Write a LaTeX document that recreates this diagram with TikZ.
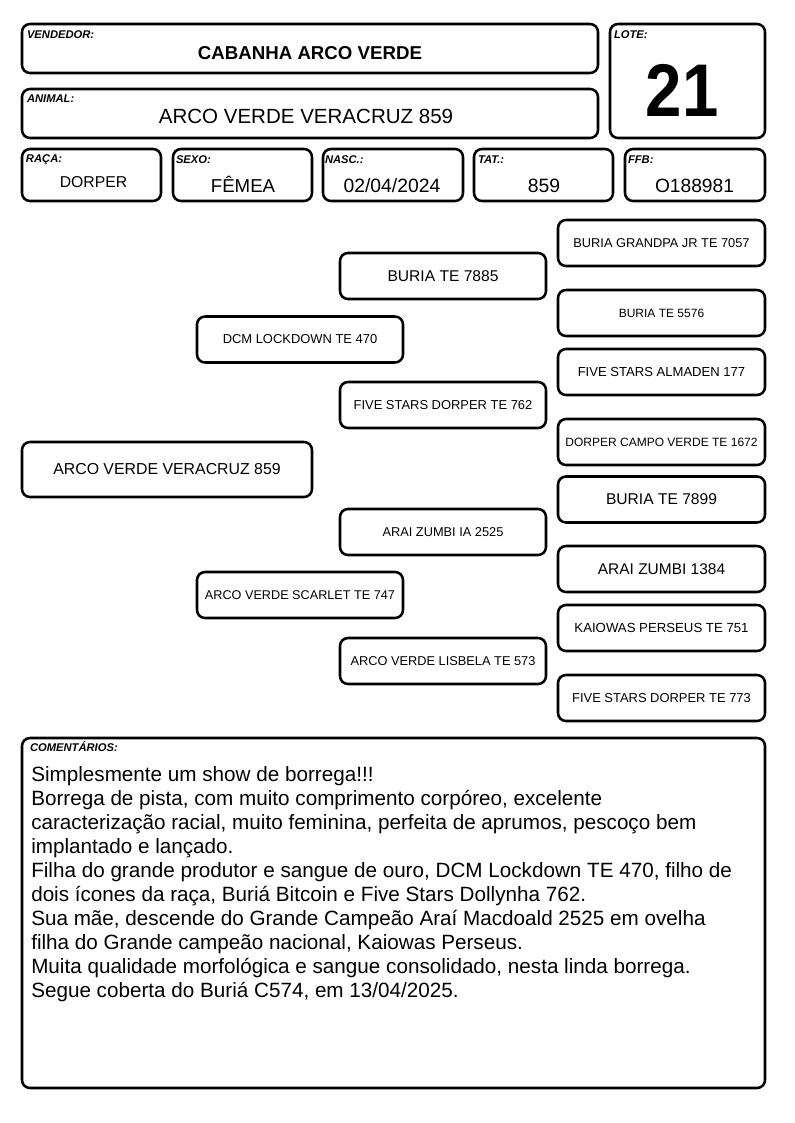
\documentclass[tikz,border=0pt]{standalone}
\usepackage{fontspec}
\setmainfont{Liberation Sans}

\tikzset{
    box/.style={draw,line width=1.9pt,rounded corners=6pt,inner sep=0pt},
    sz/.style 2 args={minimum width=#1*0.75pt,minimum height=#2*0.75pt},
    lbl/.style={anchor=base west,inner sep=0pt,font=\bfseries\itshape\fontsize{8.4}{9}\selectfont},
    val/.style={anchor=base,inner sep=0pt,font=\fontsize{#1}{#1}\selectfont},
    ped/.style={box,font=\fontsize{#1}{#1}\selectfont}
}

\begin{document}
\begin{tikzpicture}[x=0.75pt,y=-0.75pt]

        \useasboundingbox (0,0) rectangle (794,1123);

        % header
        \node[box,sz={576}{49}] (vend) at (310,48.5) {};
        \node[box,sz={576}{49}] (anim) at (310,113.5) {};
        \node[box,sz={155}{114}] (lote) at (687.5,81) {};
        \node[box,sz={139}{52}] (raca) at (91.5,175) {};
        \node[box,sz={139}{52}] (sexo) at (242.5,175) {};
        \node[box,sz={140}{52}] (nasc) at (393,175) {};
        \node[box,sz={139}{52}] (tat) at (543.5,175) {};
        \node[box,sz={140}{52}] (ffb) at (695,175) {};

        \node[lbl] (vendlbl) at ([shift={(6,16)}]vend.north west) {VENDEDOR:};
        \node[lbl] (animlbl) at ([shift={(6,15)}]anim.north west) {ANIMAL:};
        \node[lbl] (lotelbl) at ([shift={(5,16)}]lote.north west) {LOTE:};
        \node[lbl] (racalbl) at ([shift={(5,15)}]raca.north west) {RAÇA:};
        \node[lbl] (sexolbl) at ([shift={(4,16)}]sexo.north west) {SEXO:};
        \node[lbl] (nasclbl) at ([shift={(3,16)}]nasc.north west) {NASC.:};
        \node[lbl] (tatlbl) at ([shift={(5,16)}]tat.north west) {TAT.:};
        \node[lbl] (ffblbl) at ([shift={(4,16)}]ffb.north west) {FFB:};

        \node[val=14] (vendval) at (310,59.7) {\bfseries CABANHA ARCO VERDE};
        \node[val=15.4] (animval) at (306,123.4) {ARCO VERDE VERACRUZ 859};
        \node[val=56] (loteval) at (682,117) {\bfseries\scalebox{0.875}[1]{21}};
        \node[val=11.8] (racaval) at (93.5,187.6) {DORPER};
        \node[val=14] (sexoval) at (243,193) {FÊMEA};
        \node[val=14.5] (nascval) at (392,193) {02/04/2024};
        \node[val=14.5] (tatval) at (544,193) {859};
        \node[val=14.4] (ffbval) at (694.5,193) {O188981};

        % pedigree
        \node[ped=11.9,sz={290}{55}] (p0) at (167,469.5) {ARCO VERDE VERACRUZ 859};

        \foreach \nm/\yy/\fs/\txt in {p1/339.5/9.7/DCM LOCKDOWN TE 470,
                                    p2/595/9.5/ARCO VERDE SCARLET TE 747}
            \node[ped=\fs,sz={206}{46}] (\nm) at (300,\yy) {\txt};

        \foreach \nm/\yy/\fs/\txt in {p11/276/11.7/BURIA TE 7885,
                                    p12/405/9.7/FIVE STARS DORPER TE 762,
                                    p21/532/9.6/ARAI ZUMBI IA 2525,
                                    p22/661/9.6/ARCO VERDE LISBELA TE 573}
            \node[ped=\fs,sz={206}{46}] (\nm) at (443,\yy) {\txt};

        \foreach \nm/\yy/\fs/\txt in {p111/243/9.6/BURIA GRANDPA JR TE 7057,
                                    p112/313/9/BURIA TE 5576,
                                    p121/372/9.8/FIVE STARS ALMADEN 177,
                                    p122/442/9/DORPER CAMPO VERDE TE 1672,
                                    p211/499.5/11.7/BURIA TE 7899,
                                    p212/569/11.6/ARAI ZUMBI 1384,
                                    p221/628/9.9/KAIOWAS PERSEUS TE 751,
                                    p222/698/9.7/FIVE STARS DORPER TE 773}
            \node[ped=\fs,sz={207}{46}] (\nm) at (661.5,\yy) {\txt};

        % comments
        \node[box,sz={743}{350}] (coment) at (393.5,913) {};
        \node[lbl] (comentlbl) at ([shift={(9,15)}]coment.north west) {COMENTÁRIOS:};
        \node[anchor=north west,inner sep=0pt,align=left,font=\fontsize{15.5}{18}\selectfont] (comenttxt) at (31,766)
            {Simplesmente um show de borrega!!!\\
             Borrega de pista, com muito comprimento corpóreo, excelente\\
             caracterização racial, muito feminina, perfeita de aprumos, pescoço bem\\
             implantado e lançado.\\
             Filha do grande produtor e sangue de ouro, DCM Lockdown TE 470, filho de\\
             dois ícones da raça, Buriá Bitcoin e Five Stars Dollynha 762.\\
             Sua mãe, descende do Grande Campeão Araí Macdoald 2525 em ovelha\\
             filha do Grande campeão nacional, Kaiowas Perseus.\\
             Muita qualidade morfológica e sangue consolidado, nesta linda borrega.\\
             Segue coberta do Buriá C574, em 13/04/2025.};

\end{tikzpicture}
\end{document}
